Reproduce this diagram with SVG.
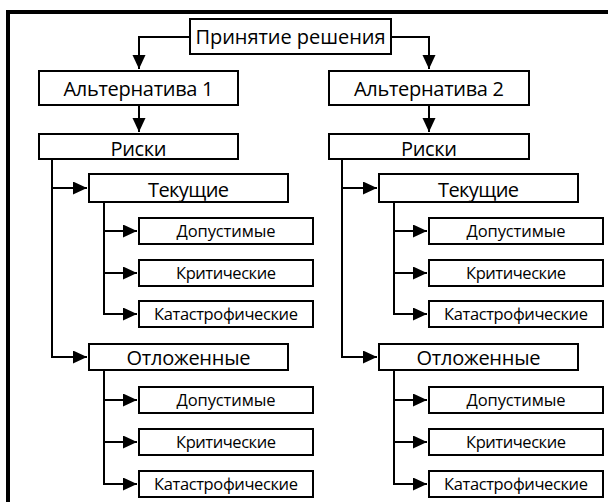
<svg xmlns="http://www.w3.org/2000/svg" width="608" height="502" viewBox="0 0 608 502">
<style>
.box{fill:#fff;stroke:#000;stroke-width:2}
.ln{fill:none;stroke:#000;stroke-width:2}
.t{font-family:"Open Sans","Noto Sans","DejaVu Sans",sans-serif;fill:#000;text-anchor:middle}
.L{font-size:20px}
.S{font-size:16.5px}
</style>
<defs>
<marker id="ar" markerUnits="userSpaceOnUse" markerWidth="16" markerHeight="14" refX="14" refY="6.5" orient="auto">
<path d="M0,0 L14,6.5 L0,13 Z" fill="#000"/>
</marker>
</defs>
<rect width="608" height="502" fill="#fff"/>
<path d="M8,504 V12 H612" fill="none" stroke="#000" stroke-width="4"/>
<g id="connectors">
<path class="ln" d="M190,37 H139 V69" marker-end="url(#ar)"/>
<path class="ln" d="M391,37 H429 V69" marker-end="url(#ar)"/>
<path class="ln" d="M139,106 V132" marker-end="url(#ar)"/>
<path class="ln" d="M429,106 V132" marker-end="url(#ar)"/>
<path class="ln" d="M52,160 V357 H87" marker-end="url(#ar)"/>
<path class="ln" d="M52,188 H87" marker-end="url(#ar)"/>
<path class="ln" d="M104,203 V314 H137" marker-end="url(#ar)"/>
<path class="ln" d="M104,231 H137" marker-end="url(#ar)"/>
<path class="ln" d="M104,273 H137" marker-end="url(#ar)"/>
<path class="ln" d="M104,371 V484 H137" marker-end="url(#ar)"/>
<path class="ln" d="M104,400 H137" marker-end="url(#ar)"/>
<path class="ln" d="M104,442 H137" marker-end="url(#ar)"/>
<path class="ln" d="M342,160 V357 H377" marker-end="url(#ar)"/>
<path class="ln" d="M342,188 H377" marker-end="url(#ar)"/>
<path class="ln" d="M394,203 V314 H427" marker-end="url(#ar)"/>
<path class="ln" d="M394,231 H427" marker-end="url(#ar)"/>
<path class="ln" d="M394,273 H427" marker-end="url(#ar)"/>
<path class="ln" d="M394,371 V484 H427" marker-end="url(#ar)"/>
<path class="ln" d="M394,400 H427" marker-end="url(#ar)"/>
<path class="ln" d="M394,442 H427" marker-end="url(#ar)"/>
</g>
<g id="root"><rect class="box" x="190" y="19" width="201" height="35"/><text class="t L" x="290.5" y="44" textLength="190">Принятие решения</text></g>
<g id="alt1"><rect class="box" x="39" y="71" width="199" height="34"/><text class="t L" x="138.5" y="96" textLength="150">Альтернатива 1</text></g>
<g id="alt2"><rect class="box" x="329" y="71" width="200" height="34"/><text class="t L" x="429" y="96" textLength="150">Альтернатива 2</text></g>
<g id="risks1"><rect class="box" x="39" y="134" width="199" height="25"/><text class="t L" x="138.5" y="156" textLength="56">Риски</text></g>
<g id="risks2"><rect class="box" x="329" y="134" width="200" height="25"/><text class="t L" x="429" y="156" textLength="56">Риски</text></g>
<g id="cur1"><rect class="box" x="89" y="174" width="199" height="28"/><text class="t L" x="188.5" y="197" textLength="81">Текущие</text></g>
<g id="cur2"><rect class="box" x="379" y="174" width="199" height="28"/><text class="t L" x="478.5" y="197" textLength="81">Текущие</text></g>
<g id="def1"><rect class="box" x="89" y="344" width="199" height="26"/><text class="t L" x="188.5" y="365" textLength="124">Отложенные</text></g>
<g id="def2"><rect class="box" x="379" y="344" width="199" height="26"/><text class="t L" x="478.5" y="365" textLength="124">Отложенные</text></g>
<g id="c1a"><rect class="box" x="139" y="218" width="174" height="26"/><text class="t S" x="226" y="237" textLength="99">Допустимые</text></g>
<g id="c1b"><rect class="box" x="139" y="260" width="174" height="26"/><text class="t S" x="226" y="279" textLength="100">Критические</text></g>
<g id="c1c"><rect class="box" x="139" y="301" width="174" height="26"/><text class="t S" x="226" y="320" textLength="144">Катастрофические</text></g>
<g id="d1a"><rect class="box" x="139" y="387" width="174" height="26"/><text class="t S" x="226" y="406" textLength="99">Допустимые</text></g>
<g id="d1b"><rect class="box" x="139" y="429" width="174" height="26"/><text class="t S" x="226" y="448" textLength="100">Критические</text></g>
<g id="d1c"><rect class="box" x="139" y="471" width="174" height="26"/><text class="t S" x="226" y="490" textLength="144">Катастрофические</text></g>
<g id="c2a"><rect class="box" x="429" y="218" width="174" height="26"/><text class="t S" x="516" y="237" textLength="99">Допустимые</text></g>
<g id="c2b"><rect class="box" x="429" y="260" width="174" height="26"/><text class="t S" x="516" y="279" textLength="100">Критические</text></g>
<g id="c2c"><rect class="box" x="429" y="301" width="174" height="26"/><text class="t S" x="516" y="320" textLength="144">Катастрофические</text></g>
<g id="d2a"><rect class="box" x="429" y="387" width="174" height="26"/><text class="t S" x="516" y="406" textLength="99">Допустимые</text></g>
<g id="d2b"><rect class="box" x="429" y="429" width="174" height="26"/><text class="t S" x="516" y="448" textLength="100">Критические</text></g>
<g id="d2c"><rect class="box" x="429" y="471" width="174" height="26"/><text class="t S" x="516" y="490" textLength="144">Катастрофические</text></g>
</svg>
